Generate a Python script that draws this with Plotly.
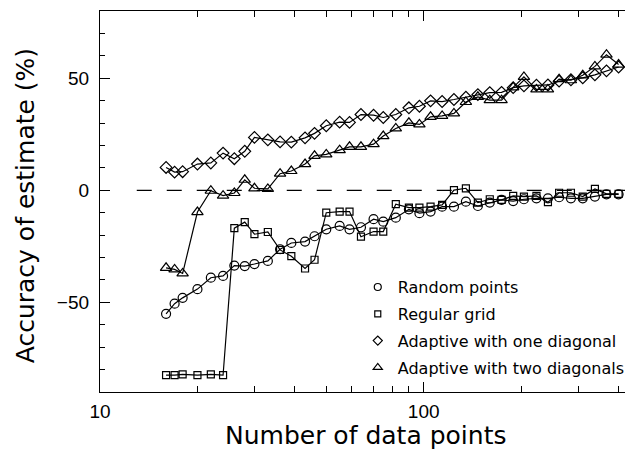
import plotly.graph_objects as go

# Number of data points (x values shared by all series)
n_points = [16, 17, 18, 20, 22, 24, 26, 28, 30, 33,
            36, 39, 43, 46, 50, 55, 59, 64, 70, 75,
            82, 90, 97, 105, 114, 124, 135, 147, 160, 174,
            189, 204, 223, 242, 262, 285, 310, 338, 367, 400]

random_points = [-55.1, -50.6, -48.0, -44.1, -39.0, -38.2, -33.6, -33.8, -32.9, -31.5,
                 -26.3, -23.5, -22.9, -20.5, -17.4, -15.9, -17.4, -16.5, -12.9, -14.0,
                 -12.2, -8.5, -10.2, -9.5, -7.3, -7.3, -5.1, -7.0, -5.5, -4.3,
                 -4.8, -4.0, -3.6, -3.6, -3.1, -3.6, -3.6, -2.8, -1.8, -1.8]

regular_grid = [-82.5, -82.5, -82.1, -82.5, -82.1, -82.5, -16.9, -14.2, -19.6, -18.6,
                -26.6, -29.4, -34.9, -31.0, -10.0, -9.5, -9.5, -20.7, -18.4, -18.4,
                -6.2, -7.7, -7.7, -7.3, -6.5, 0.1, 0.9, -5.5, -4.0, -4.3,
                -2.5, -2.8, -2.5, -5.3, -1.1, -1.1, -2.8, 0.6, -1.6, -1.6]

adaptive_one = [10.2, 8.1, 8.3, 11.7, 12.2, 16.6, 14.1, 17.4, 23.6, 22.5,
                21.6, 21.5, 23.4, 25.4, 28.8, 30.4, 30.3, 33.8, 33.5, 32.5,
                33.8, 36.8, 37.5, 39.9, 39.6, 40.5, 41.5, 42.7, 43.6, 43.7,
                45.8, 46.6, 46.9, 47.0, 48.7, 49.3, 50.2, 51.5, 53.3, 55.0]

adaptive_two = [-34.6, -35.3, -37.1, -9.7, -0.2, -2.4, -1.2, 4.7, 0.9, 0.6,
                7.4, 8.6, 11.7, 15.4, 16.0, 17.9, 19.4, 19.4, 20.6, 24.2,
                27.6, 30.1, 29.4, 32.8, 33.2, 34.3, 39.4, 41.7, 40.2, 40.2,
                45.9, 50.6, 45.0, 45.0, 49.6, 49.1, 51.3, 55.3, 60.5, 56.1]

series_names = ["Random points", "Regular grid",
                "Adaptive with one diagonal", "Adaptive with two diagonals"]

x_major = [10, 100]
x_minor = [20, 30, 40, 50, 60, 70, 80, 90, 200, 300, 400]
y_major = [-50, 0, 50]
y_minor = [-90, -80, -70, -60, -40, -30, -20, -10, 10, 20, 30, 40, 60, 70, 80]

series = [random_points, regular_grid, adaptive_one, adaptive_two]
symbols = ["circle-open", "square-open", "diamond-open", "triangle-up-open"]
sizes = [9, 7, 9, 10]
leg_sizes = [7, 6, 7, 8]

fig = go.Figure()
for ys, sym, sz in zip(series, symbols, sizes):
    fig.add_trace(go.Scatter(
        x=n_points, y=ys, mode="lines+markers",
        line=dict(color="black", width=1.2),
        marker=dict(symbol=sym, size=sz, color="black", line=dict(color="black", width=1.2)),
        showlegend=False))

for name, sym, sz in zip(series_names, symbols, leg_sizes):
    fig.add_trace(go.Scatter(
        x=[None], y=[None], mode="markers", name=name, legendgroup=name,
        marker=dict(symbol=sym, size=sz, color="black", line=dict(color="black", width=1.2))))

# dashed zero line
fig.add_shape(type="line", xref="paper", yref="y", x0=0.07, x1=1, y0=0, y1=0,
              line=dict(color="black", width=1.2, dash="15px,15px"))

tickfont = dict(family="Liberation Sans, Arial, sans-serif", size=19, color="black")
titlefont = "DejaVu Sans, sans-serif"

# axis titles as annotations for exact placement
fig.add_annotation(text="Number of data points", xref="paper", yref="paper",
                   x=0.505, y=-0.113, xanchor="center", yanchor="middle", showarrow=False,
                   font=dict(family=titlefont, size=25, color="black"))
fig.add_annotation(text="Accuracy of estimate (%)", xref="paper", yref="paper",
                   x=-0.143, y=0.49, xanchor="center", yanchor="middle", showarrow=False,
                   textangle=-90, font=dict(family=titlefont, size=25, color="black"))

fig.update_layout(
    width=625, height=458,
    margin=dict(l=100, r=0, t=11, b=65.5, autoexpand=False),
    paper_bgcolor="white", plot_bgcolor="white",
    xaxis=dict(type="log", range=[1, 1 + 525 / 323.7], automargin=False,
               tickmode="array", tickvals=x_major, ticktext=["10", "100"],
               ticks="inside", ticklen=10, tickwidth=1, tickcolor="black",
               showline=True, linecolor="black", linewidth=1.2, mirror="ticks",
               showgrid=False, zeroline=False, tickfont=tickfont, ticklabelstandoff=2,
               minor=dict(tickmode="array", tickvals=x_minor, ticks="inside",
                          ticklen=6, tickwidth=1, tickcolor="black", showgrid=False)),
    yaxis=dict(range=[-90, 80], automargin=False,
               tickmode="array", tickvals=y_major, ticktext=["\u221250", "0", "50"],
               ticks="inside", ticklen=10, tickwidth=1, tickcolor="black",
               showline=True, linecolor="black", linewidth=1.2, mirror=False,
               showgrid=False, zeroline=False, tickfont=tickfont, ticklabelstandoff=6,
               minor=dict(tickmode="array", tickvals=y_minor, ticks="inside",
                          ticklen=5, tickwidth=1, tickcolor="black", showgrid=False)),
    legend=dict(x=0.491, y=0.32, xanchor="left", yanchor="top",
                bgcolor="rgba(0,0,0,0)", borderwidth=0,
                font=dict(family="DejaVu Sans, sans-serif", size=16, color="black"),
                tracegroupgap=3, itemwidth=30),
)

fig.write_html("out.html",
               config={"displayModeBar": False},
               post_script="document.body.style.margin='0px';"
                           "document.body.style.overflow='hidden';"
                           "document.documentElement.style.overflow='hidden';")
